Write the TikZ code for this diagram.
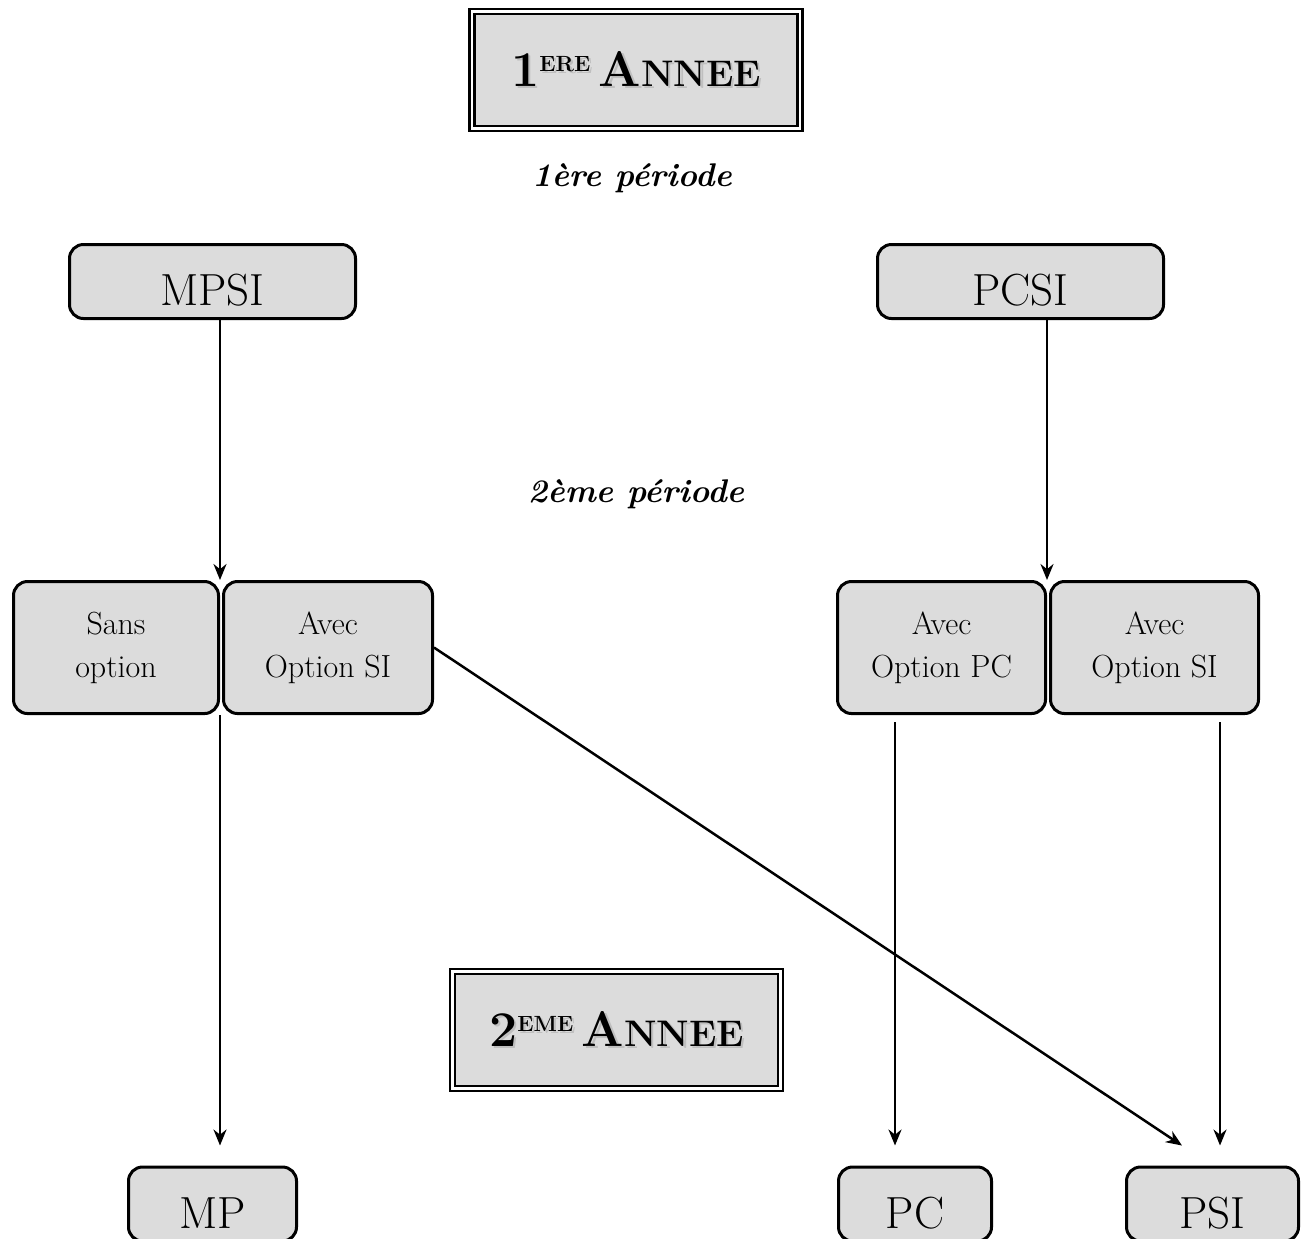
\documentclass[tikz,border=0pt]{standalone}
\usetikzlibrary{arrows.meta}

\definecolor{gris}{RGB}{220,220,220}
\newcommand{\anneetxt}[2]{\fontsize{25}{25}\selectfont #1\raisebox{7.5pt}{\fontsize{11}{11}\selectfont #2}\,A{\fontsize{18.5}{18.5}\selectfont NNEE}}
\newcommand{\annee}[2]{\textbf{\rlap{\hspace{1.2pt}\raisebox{-1.2pt}{\color{black!25}\anneetxt{#1}{#2}}}\anneetxt{#1}{#2}}}

\begin{document}
\begin{tikzpicture}[x=0.5pt, y=-0.5pt,
  titre/.style={draw, double, line width=1.2pt, double distance=1.2pt, fill=gris, minimum width=164pt, minimum height=58.4pt, inner sep=0pt},
  classe/.style={draw, line width=1.5pt, rounded corners=7pt, fill=gris, minimum height=37pt, inner sep=0pt, text height=24pt, text depth=0pt, font=\fontsize{22.5}{22.5}\selectfont},
  option/.style={draw, line width=1.5pt, rounded corners=7pt, fill=gris, minimum height=66pt, inner sep=0pt, align=center, font=\fontsize{16}{21.5}\selectfont},
  periode/.style={font=\fontsize{16.4}{16.4}\selectfont\bfseries\itshape},
  fleche/.style={-{Stealth[length=8pt, width=6.5pt]}, line width=1.25pt}]
\useasboundingbox (0,0) rectangle (1304,1238);

% titres
\node[titre] (an1) at (636,70) {\annee{1}{ERE}};
\node[titre] (an2) at (616.5,1030) {\annee{2}{EME}};
\node[periode] (p1) at (632,178) {1ère période};
\node[periode] (p2) at (636,494) {2ème période};

% 1ere periode
\node[classe, minimum width=143pt] (mpsi) at (212.5,281.5) {MPSI};
\node[classe, minimum width=143pt] (pcsi) at (1020.5,281.5) {PCSI};

% options
\node[option, minimum width=102.5pt] (sans) at (116,647.5) {Sans\\option};
\node[option, minimum width=104.5pt] (mpsisi) at (328,647.5) {Avec\\Option SI};
\node[option, minimum width=104pt] (pcsipc) at (941.5,647.5) {Avec\\Option PC};
\node[option, minimum width=104pt] (pcsisi) at (1154.5,647.5) {Avec\\Option SI};

% 2eme annee
\node[classe, minimum width=84pt] (mp) at (212.5,1204) {MP};
\node[classe, minimum width=76.5pt] (pc) at (915,1204) {PC};
\node[classe, minimum width=86pt] (psi) at (1212.5,1204) {PSI};

\draw[fleche] (mpsi.south -| sans.north east) -- (sans.north east);
\draw[fleche] (pcsi.south -| pcsipc.north east) -- (pcsipc.north east);
\draw[fleche, shorten >=10pt] (sans.south east) -- (sans.south east |- mp.north);
\draw[fleche, shorten <=3.5pt, shorten >=10pt] ([xshift=-23.25pt]pcsipc.south) -- ([xshift=-23.25pt]pcsipc.south |- pc.north);
\draw[fleche, shorten <=3.5pt, shorten >=10pt] ([xshift=32.75pt]pcsisi.south) -- ([xshift=32.75pt]pcsisi.south |- psi.north);
\draw[fleche] (mpsisi.east) -- ([xshift=-15.25pt, yshift=10pt]psi.north);
\end{tikzpicture}
\end{document}
